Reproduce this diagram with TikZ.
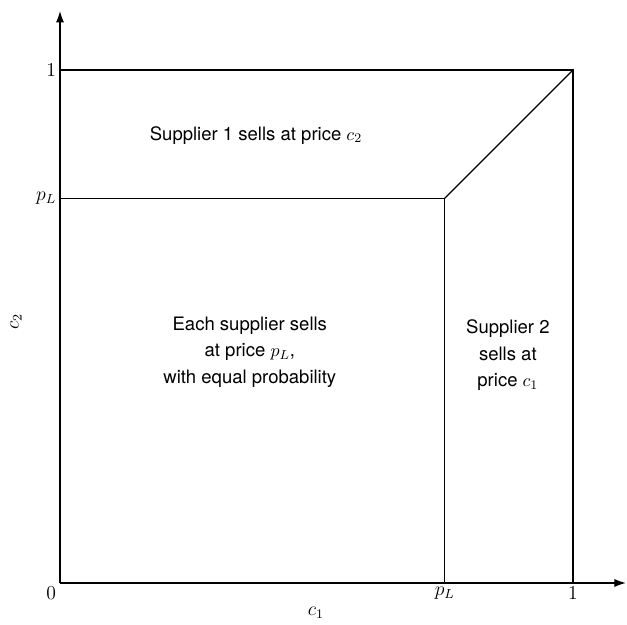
\documentclass[tikz,border=0pt]{standalone}
\usepackage{fontspec}
\setsansfont{TeX Gyre Heros}
\usetikzlibrary{arrows.meta}
\begin{document}
\begin{tikzpicture}[x=11cm, y=11cm, line width=0.75pt,
  region/.style={align=center, font=\sffamily\fontsize{11.3}{16}\selectfont},
  tick/.style={font=\fontsize{11.5}{13}\selectfont, inner sep=2pt}]
\useasboundingbox (-0.11696,-0.07992) rectangle (1.10526,1.13645);
\coordinate (o) at (0,0);
\coordinate (xend) at (1.103,0);
\coordinate (yend) at (0,1.115);
\coordinate (xone) at (1,0);
\coordinate (yone) at (0,1);
\coordinate (top) at (1,1);
\coordinate (kink) at (0.75,0.75);
\coordinate (xpl) at (0.75,0);
\coordinate (ypl) at (0,0.75);
% axes
\draw[-{Latex[length=7pt,width=5pt]}] (o) -- (xend);
\draw[-{Latex[length=7pt,width=5pt]}] (o) -- (yend);
% regions
\draw (yone) -- (top) -- (xone);
\draw (ypl) -- (kink) -- (xpl);
\draw (kink) -- (top);
% tick labels
\node[tick, anchor=north east] (zero) at (o) {$0$};
\node[tick, anchor=north] (plx) at (xpl) {$p_L$};
\node[tick, anchor=north] (onex) at (xone) {$1$};
\node[tick, anchor=east] (ply) at (ypl) {$p_L$};
\node[tick, anchor=east] (oney) at (yone) {$1$};
\node[tick] (cone) at (0.499,-0.058) {$c_1$};
\node[tick, rotate=90] (ctwo) at (-0.086,0.509) {$c_2$};
% labels
\node[region] (sone) at (0.382,0.873) {Supplier 1 sells at price $c_2$};
\node[region] (both) at (0.370,0.450) {Each supplier sells\\at price $p_L$,\\with equal probability};
\node[region] (stwo) at (0.873,0.444) {Supplier 2\\sells at\\price $c_1$};
\end{tikzpicture}
\end{document}
